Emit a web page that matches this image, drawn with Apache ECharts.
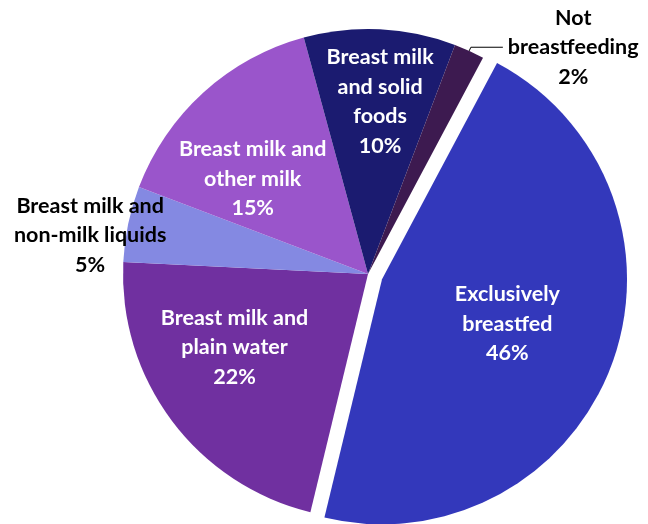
<!DOCTYPE html>
<html>
<head>
<meta charset="utf-8">
<script src="https://cdn.jsdelivr.net/npm/echarts@6/dist/echarts.min.js"></script>
<style>
  html, body { margin: 0; padding: 0; background: #fff; }
  #main { width: 648px; height: 524px; }
</style>
</head>
<body>
<div id="main"></div>
<script>
// feeding categories, clockwise from the exploded slice
var categories = [
  'Exclusively\nbreastfed',
  'Breast milk and\nplain water',
  'Breast milk and\nnon-milk liquids',
  'Breast milk and\nother milk',
  'Breast milk\nand solid\nfoods',
  'Not\nbreastfeeding'
];
var values = [46, 22, 5, 15, 10, 2];
var colors = ['#3338BB', '#7030A0', '#8489E2', '#9A55CB', '#1B1B70', '#3D1A50'];

// label nudges (px) from the default label spot
var nudges = [[8, 0], [-33, -2], [-155, -13], [-31, -2], [6, -47], [0, 0]];

var chart = echarts.init(document.getElementById('main'));

var data = categories.map(function (name, i) {
  var item = {
    name: name,
    value: values[i],
    itemStyle: { color: colors[i] }
  };
  if (i === 0) item.selected = true;
  if (i === 2) {
    item.label = { color: '#000' };
  }
  if (i === 5) {
    item.label = { position: 'outside', color: '#000', overflow: 'none', edgeDistance: 0 };
    item.labelLine = { show: true, length: 4, length2: 32, lineStyle: { color: '#000', width: 1 } };
  }
  return item;
});

var option = {
  animation: false,
  series: [{
    type: 'pie',
    center: [368, 274],
    radius: 245,
    startAngle: 62,
    clockwise: true,
    selectedMode: 'single',
    selectedOffset: 15,
    emphasis: { disabled: true },
    itemStyle: { borderWidth: 0 },
    label: {
      show: true,
      position: 'inside',
      formatter: '{b}\n{c}%',
      color: '#fff',
      fontFamily: 'Lato',
      fontWeight: 'bold',
      fontSize: 21.5,
      lineHeight: 29.5,
      align: 'center'
    },
    labelLine: { show: false },
    labelLayout: function (params) {
      var n = nudges[params.dataIndex];
      if (params.dataIndex === 5) {
        return { align: 'center', dx: params.labelRect.width / 2 };
      }
      return { dx: n[0], dy: n[1] };
    },
    data: data
  }]
};

chart.setOption(option);
</script>
</body>
</html>
